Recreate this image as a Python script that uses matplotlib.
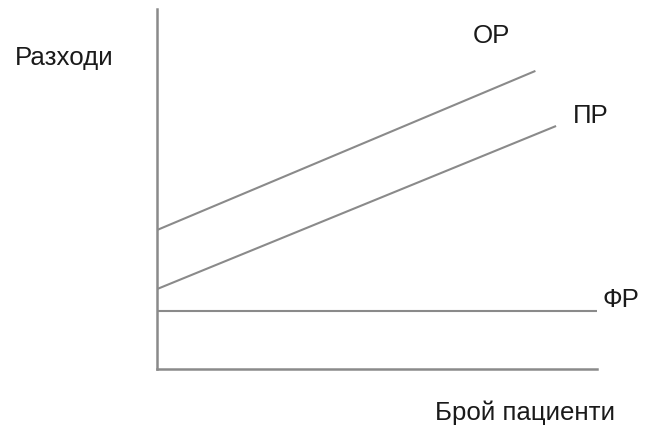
import matplotlib
matplotlib.use("Agg")
import matplotlib.pyplot as plt

# Брой пациенти (x) vs разходи (y), arbitrary units 0..100
x_op = [0, 86]
y_op = [38.6, 82.8]     # ОР - общи разходи
x_pr = [0, 90.7]
y_pr = [22.2, 67.5]     # ПР - променливи разходи
x_fr = [0, 100]
y_fr = [16.1, 16.1]     # ФР - фиксирани разходи

line_labels = ["ОР", "ПР", "ФР"]
x_label = "Брой пациенти"
y_label = "Разходи"

W, H = 651, 427
plt.rcParams['font.family'] = ['Liberation Sans', 'DejaVu Sans']

fig = plt.figure(figsize=(W / 100, H / 100), dpi=100)
ax = fig.add_axes([157 / W, (H - 370) / H, 440 / W, 360 / H])

gray = "#8a8a8a"
for xs, ys in [(x_op, y_op), (x_pr, y_pr), (x_fr, y_fr)]:
    ax.plot(xs, ys, color=gray, lw=1.5, solid_capstyle='butt')

ax.set_xlim(0, 100)
ax.set_ylim(0, 100)
ax.set_xticks([])
ax.set_yticks([])
for side in ["top", "right"]:
    ax.spines[side].set_visible(False)
for side in ["left", "bottom"]:
    ax.spines[side].set_color(gray)
    ax.spines[side].set_linewidth(1.8)

txt = dict(fontsize=18.6, color="#1a1a1a", va="baseline", ha="left")
# positions in pixels (left, baseline)
fig.text(15 / W, 1 - 65 / H, y_label, **txt)
fig.text(473 / W, 1 - 43 / H, line_labels[0], **txt)
fig.text(573 / W, 1 - 123 / H, line_labels[1], **txt)
fig.text(603 / W, 1 - 307 / H, line_labels[2], **txt)
fig.text(435 / W, 1 - 420 / H, x_label, **txt)

fig.savefig("out.png", dpi=100)
